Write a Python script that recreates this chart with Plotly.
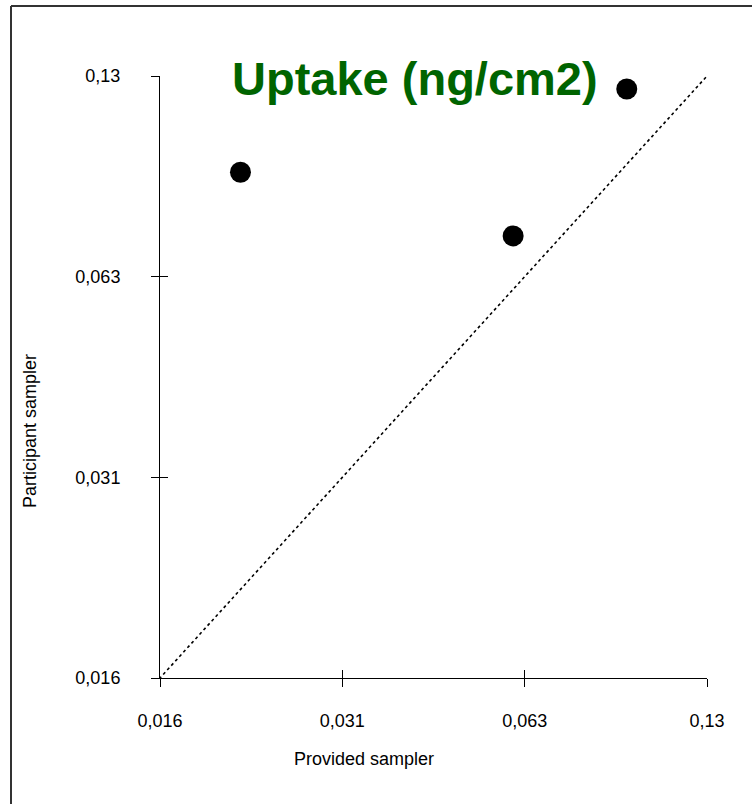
import plotly.graph_objects as go
import math

provided = [0.0215, 0.0604, 0.0929]
participant = [0.0904, 0.0726, 0.1204]
line_x = [0.0158, 0.1259]
line_y = [0.0158, 0.1259]
tick_vals = [0.01585, 0.03162, 0.0631, 0.1259]
tick_text = ["0,016", "0,031", "0,063", "0,13"]
title = "Uptake (ng/cm2)"
x_title = "Provided sampler"
y_title = "Participant sampler"

rng = [math.log10(tick_vals[0]), math.log10(tick_vals[-1])]
fnt = dict(family="Arial, Liberation Sans, sans-serif", size=18, color="black")

fig = go.Figure()
fig.add_trace(go.Scatter(x=line_x, y=line_y, mode="lines",
                         line=dict(color="black", width=1.6, dash="dot"),
                         showlegend=False, hoverinfo="skip"))
fig.add_trace(go.Scatter(x=provided, y=participant, mode="markers",
                         marker=dict(color="black", size=21, symbol="circle"),
                         showlegend=False))
# invisible trace on overlay axes for inside ticks
fig.add_trace(go.Scatter(x=line_x, y=line_y, xaxis="x2", yaxis="y2", mode="markers",
                         marker=dict(opacity=0), showlegend=False, hoverinfo="skip"))

axis_common = dict(type="log", range=rng, tickvals=tick_vals, ticktext=tick_text,
                   showgrid=False, zeroline=False, showline=True, linecolor="black",
                   linewidth=1, ticks="outside", ticklen=8, tickcolor="black",
                   tickwidth=1, tickfont=fnt)

fig.update_layout(
    width=752, height=804,
    margin=dict(l=160, r=45, t=76, b=126),
    paper_bgcolor="white", plot_bgcolor="white",
    xaxis=dict(**axis_common, ticklabelstandoff=18),
    yaxis=dict(**axis_common, ticklabelstandoff=27),
    xaxis2=dict(type="log", range=rng, tickvals=tick_vals, showticklabels=False,
                overlaying="x", showgrid=False, zeroline=False, ticks="inside",
                ticklen=8, tickcolor="black", showline=False),
    yaxis2=dict(type="log", range=rng, tickvals=tick_vals, showticklabels=False,
                overlaying="y", showgrid=False, zeroline=False, ticks="inside",
                ticklen=8, tickcolor="black", showline=False),
    font=fnt,
    annotations=[
        dict(text="<b>" + title + "</b>", xref="paper", yref="paper",
             x=(415 - 160) / 547, y=1, yshift=-2, xanchor="center", yanchor="middle",
             showarrow=False, font=dict(family="Arial, Liberation Sans, sans-serif",
                                        size=47, color="#006400")),
        dict(text=x_title, xref="paper", yref="paper", x=(364 - 160) / 547, y=0,
             yshift=-81, xanchor="center", yanchor="middle", showarrow=False, font=fnt),
        dict(text=y_title, xref="paper", yref="paper", x=0, xshift=-130,
             y=(678 - 431) / 602, xanchor="center", yanchor="middle", textangle=-90,
             showarrow=False, font=fnt),
    ],
    shapes=[
        dict(type="line", xref="paper", yref="paper", x0=(11 - 160) / 547, x1=(11 - 160) / 547,
             y0=(678 - 6) / 602, y1=(678 - 810) / 602, line=dict(color="#333333", width=2)),
        dict(type="line", xref="paper", yref="paper", x0=(11 - 160) / 547, x1=(760 - 160) / 547,
             y0=(678 - 6) / 602, y1=(678 - 6) / 602, line=dict(color="#333333", width=2)),
    ],
)

fig.write_html("out.html")
